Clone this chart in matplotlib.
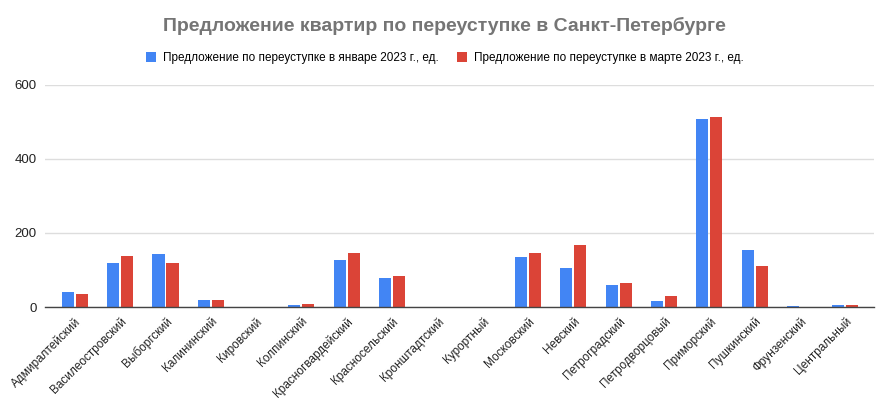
import matplotlib.pyplot as plt
import matplotlib.transforms as mtransforms
import numpy as np

districts = ['Адмиралтейский', 'Василеостровский', 'Выборгский', 'Калининский',
             'Кировский', 'Колпинский', 'Красногвардейский', 'Красносельский',
             'Кронштадтский', 'Курортный', 'Московский', 'Невский',
             'Петроградский', 'Петродворцовый', 'Приморский', 'Пушкинский',
             'Фрунзенский', 'Центральный']
jan_2023 = [40, 120, 144, 20, 0, 6, 127, 79, 0, 0, 134, 105, 60, 17, 509, 155, 3, 6]
mar_2023 = [35, 138, 118, 20, 0, 9, 147, 85, 0, 1, 147, 168, 64, 30, 514, 111, 1, 6]
yticks = [0, 200, 400, 600]

plt.rcParams['font.family'] = ['Liberation Sans', 'DejaVu Sans']

fig = plt.figure(figsize=(8.81, 4.0), dpi=100)
ax = fig.add_axes([0.051, 0.2325, 0.941, 0.555])

x = np.arange(len(districts))
w = 0.265
ax.bar(x - w / 2 - 0.022, jan_2023, w, color='#4285F4',
       label='Предложение по переуступке в январе 2023 г., ед.')
ax.bar(x + w / 2 + 0.022, mar_2023, w, color='#DB4437',
       label='Предложение по переуступке в марте 2023 г., ед.')

ax.set_xlim(-0.5 - 0.16, len(districts) - 0.5 + 0.13)
ax.set_ylim(0, 600)
ax.set_yticks(yticks)
ax.set_yticklabels([str(t) for t in yticks], fontsize=9.5, color='#222222')
ax.set_xticks(x)
ax.set_xticklabels(districts, rotation=45, ha='right', rotation_mode='anchor',
                   fontsize=8.5, color='#222222')
shift = mtransforms.ScaledTranslation(6 / 72, 0, fig.dpi_scale_trans)
for lbl in ax.get_xticklabels():
    lbl.set_transform(lbl.get_transform() + shift)
ax.tick_params(axis='both', length=0, pad=6)
ax.grid(axis='y', color='#dddddd', linewidth=1)
ax.set_axisbelow(True)
for s in ['top', 'right', 'left']:
    ax.spines[s].set_visible(False)
ax.spines['bottom'].set_color('#444444')
ax.spines['bottom'].set_linewidth(1)

fig.text(0.505, 0.935, 'Предложение квартир по переуступке в Санкт-Петербурге',
         ha='center', va='center', fontsize=14, fontweight='bold', color='#757575')
fig.legend(loc='center', bbox_to_anchor=(0.505, 0.855), ncol=2, frameon=False,
           fontsize=8.5, handlelength=0.9, handleheight=0.9, columnspacing=1.5,
           handletextpad=0.6)

fig.savefig('out.png', dpi=100)
